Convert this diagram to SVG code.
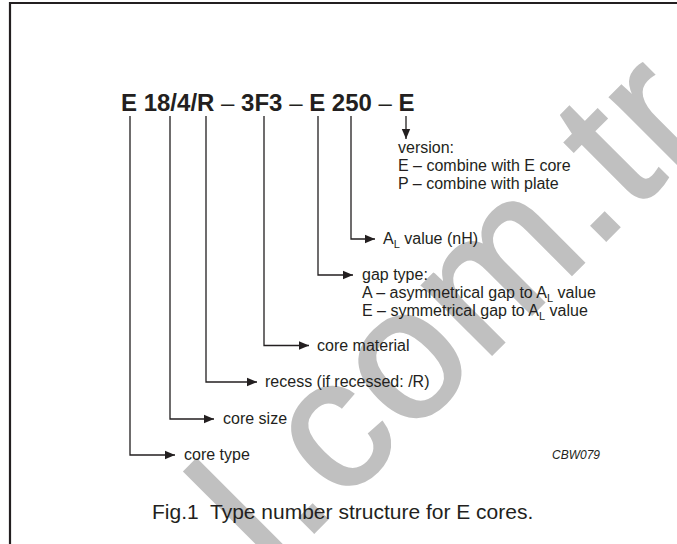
<svg xmlns="http://www.w3.org/2000/svg" width="677" height="544" viewBox="0 0 677 544">
<style>
text{font-family:"Liberation Sans",Arial,sans-serif;fill:#231f20}
.lbl{font-size:16px}
.ttl{font-size:24px;font-weight:bold}
.ttl .d{font-weight:normal}
.cap{font-size:21px;white-space:pre}
.code{font-size:12px;font-style:italic}
.wm{font-family:"Liberation Sans",Arial,sans-serif;font-size:185px;fill:#c0c0c0;stroke:#c0c0c0;stroke-width:3;letter-spacing:3px}
.ln{stroke:#231f20;stroke-width:1.3;fill:none}
.frame{stroke:#231f20;stroke-width:2.2;fill:none}
</style>
<defs>
<marker id="ah" markerUnits="userSpaceOnUse" markerWidth="11" markerHeight="10" refX="10" refY="5" orient="auto">
<path d="M0,0.8 L10,5 L0,9.2 Z" fill="#231f20"/>
</marker>
</defs>
<rect width="677" height="544" fill="#fff"/>
<text class="wm" transform="translate(271,575) rotate(-45)">l.com.tr</text>
<path class="frame" d="M10,544 V3 H677"/>
<g id="title"><text class="ttl" x="121" y="111">E 18/4/R <tspan class="d">–</tspan> 3F3 <tspan class="d">–</tspan> E 250 <tspan class="d">–</tspan> E</text></g>
<g id="connectors">
<path class="ln" marker-end="url(#ah)" d="M130,116 V455 H175"/>
<path class="ln" marker-end="url(#ah)" d="M170,116 V419 H214"/>
<path class="ln" marker-end="url(#ah)" d="M206,116 V382 H257"/>
<path class="ln" marker-end="url(#ah)" d="M264,116 V345.5 H309"/>
<path class="ln" marker-end="url(#ah)" d="M318,116 V275 H353"/>
<path class="ln" marker-end="url(#ah)" d="M351,116 V239 H375"/>
<path class="ln" marker-end="url(#ah)" d="M406,116 V139"/>
</g>
<g id="core-type"><text class="lbl" x="184" y="460">core type</text></g>
<g id="core-size"><text class="lbl" x="223" y="424">core size</text></g>
<g id="recess"><text class="lbl" x="265" y="387">recess (if recessed: /R)</text></g>
<g id="core-material"><text class="lbl" x="317" y="350.5">core material</text></g>
<g id="gap-type">
<text class="lbl" x="362" y="280">gap type:</text>
<text class="lbl" x="362" y="298">A – asymmetrical gap to A<tspan font-size="11" dy="4">L</tspan><tspan dy="-4"> value</tspan></text>
<text class="lbl" x="362" y="316">E – symmetrical gap to A<tspan font-size="11" dy="4">L</tspan><tspan dy="-4"> value</tspan></text>
</g>
<g id="al-value"><text class="lbl" x="383" y="244">A<tspan font-size="11" dy="4">L</tspan><tspan dy="-4"> value (nH)</tspan></text></g>
<g id="version">
<text class="lbl" x="398" y="153">version:</text>
<text class="lbl" x="398" y="171">E – combine with E core</text>
<text class="lbl" x="398" y="189">P – combine with plate</text>
</g>
<text class="code" x="552" y="459">CBW079</text>
<text class="cap" xml:space="preserve" x="152" y="519">Fig.1  Type number structure for E cores.</text>
</svg>
